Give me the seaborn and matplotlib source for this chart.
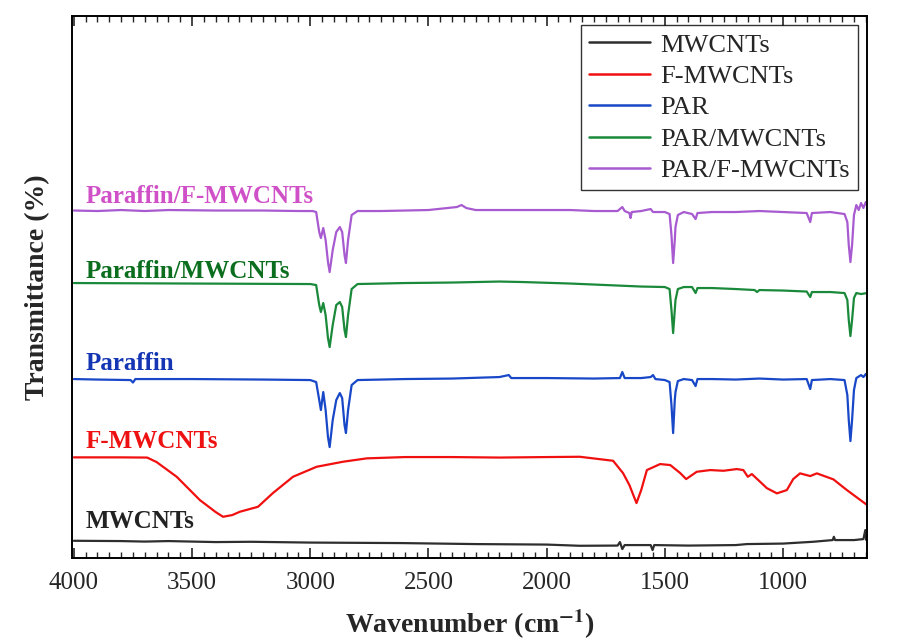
#FTIR spectra of MWCNTs, paraffin and composites

import numpy as np
import pandas as pd
import matplotlib
matplotlib.use("Agg")
import matplotlib.pyplot as plt
import seaborn as sns
from matplotlib.ticker import MultipleLocator

# values (transmittance, arbitrary offset units)
mwcnt_wn = [4000, 3800, 3700, 3600, 3500, 3400, 3250, 3000, 2616, 2300, 2000, 1860, 1700,
            1690, 1680, 1670, 1560, 1552, 1545, 1400, 1200, 1153, 1000, 873, 790, 785,
            780, 700, 660, 652, 648, 645]
mwcnt_t = [17.3, 17, 16.5, 17, 16.5, 16, 16.3, 15.5, 15, 14, 13.5, 12.3, 12.5,
           16, 9, 13, 13, 8, 13, 12.5, 13, 14, 14.5, 16.3, 18, 21.3,
           18, 18, 19, 28, 18, 20]

fmwcnt_wn = [4000, 3800, 3690, 3650, 3565, 3467, 3400, 3369, 3330, 3298, 3221, 3158, 3073,
             2973, 2862, 2761, 2600, 2400, 2200, 2000, 1860, 1719, 1677, 1650, 1620, 1600,
             1576, 1520, 1477, 1435, 1410, 1365, 1308, 1252, 1196, 1168, 1149, 1132, 1097,
             1069, 1026, 984, 957, 928, 885, 857, 787, 730, 644]
fmwcnt_t = [100.7, 100.7, 100.5, 96, 81.3, 58, 46, 41.3, 43, 46.3, 51.3, 65, 81.3,
            91.3, 96.3, 99.7, 101, 101, 100.5, 101, 101.3, 97.3, 85, 73, 55, 68,
            88, 94, 93, 85, 79, 86.3, 88, 87.3, 89, 88, 81.3, 84, 76.3,
            70, 64.7, 68, 79, 84.7, 82, 84.7, 78.7, 68, 53]

par_wn = [4000, 3900, 3760, 3750, 3740, 3500, 3200, 3000, 2975, 2962, 2955, 2945, 2935,
          2925, 2918, 2905, 2890, 2875, 2865, 2855, 2849, 2840, 2825, 2800, 2600, 2400,
          2200, 2160, 2150, 2000, 1800, 1690, 1680, 1670, 1600, 1560, 1550, 1540, 1500,
          1480, 1472, 1465, 1458, 1455, 1445, 1420, 1385, 1370, 1362, 1300, 1200, 1100,
          1000, 900, 885, 878, 800, 740, 728, 722, 715, 708, 700, 690, 670, 660, 650, 645]
par_t = [179, 178.5, 178, 175.5, 179, 179, 178.5, 178, 176, 158, 148, 166, 148,
         121, 111, 138, 158, 165, 160, 133, 125, 148, 173, 178, 179, 179.5,
         181, 183, 180, 180, 179.5, 180, 186, 180, 180, 181, 183, 179, 178,
         176, 153, 125, 158, 166, 177, 179, 178, 172, 179, 179, 178.5, 179.5,
         178.5, 179, 169, 178, 179, 178, 163, 138, 117, 138, 168, 180, 183, 181, 184, 182]

parm_wn = [4000, 3500, 3000, 2975, 2962, 2955, 2945, 2935, 2925, 2918, 2905, 2890, 2875,
           2865, 2855, 2849, 2840, 2825, 2800, 2600, 2400, 2200, 2100, 1900, 1800, 1700,
           1600, 1500, 1480, 1472, 1465, 1458, 1455, 1445, 1420, 1385, 1370, 1362, 1300,
           1200, 1120, 1110, 1100, 1000, 900, 885, 878, 800, 740, 728, 722, 715, 708,
           700, 690, 670, 645]
parm_t = [275, 274.5, 274, 273, 253, 246, 255, 243, 220, 211, 233, 253, 256,
          251, 228, 221, 243, 269, 274, 275, 275.5, 276.5, 276, 274.5, 273.5, 272.5,
          271.5, 271, 269, 248, 225, 248, 258, 269, 271, 271, 265, 270, 270,
          269, 268, 266, 268, 267.5, 266.5, 261, 266, 266, 265, 258, 238, 222, 238,
          260, 265, 264, 265]

parf_wn = [4000, 3900, 3800, 3700, 3600, 3400, 3200, 3050, 2990, 2975, 2962, 2955, 2945,
           2935, 2925, 2918, 2905, 2890, 2875, 2865, 2855, 2849, 2840, 2825, 2800, 2700,
           2500, 2380, 2360, 2340, 2300, 2100, 1900, 1800, 1700, 1680, 1670, 1650, 1645,
           1640, 1600, 1560, 1550, 1500, 1480, 1472, 1465, 1458, 1455, 1445, 1420, 1385,
           1370, 1362, 1300, 1200, 1100, 1000, 900, 885, 878, 800, 740, 728, 722, 715,
           708, 700, 690, 680, 670, 660, 650, 645]
parf_t = [347.5, 347, 348, 347, 348, 347.5, 347.5, 347, 347, 346, 326, 320, 330,
          318, 296, 286, 308, 326, 331, 326, 303, 295, 318, 343, 347, 347,
          348, 351, 353, 350, 348, 348, 348, 347, 347, 351, 347, 345, 340,
          346, 347, 349, 346, 346, 344, 323, 295, 318, 331, 343, 346, 344,
          339, 345, 346, 346, 347, 346, 345, 336, 345, 346, 344, 336, 313, 296,
          313, 343, 353, 348, 355, 350, 356, 353]

legend_names = ["MWCNTs", "F-MWCNTs", "PAR", "PAR/MWCNTs", "PAR/F-MWCNTs"]
label_names = ["MWCNTs", "F-MWCNTs", "Paraffin", "Paraffin/MWCNTs", "Paraffin/F-MWCNTs"]
label_y = [30, 110, 188, 280, 355]
line_colors = ["#2e2e2e", "#f01010", "#1848c8", "#1a8a3a", "#a85ad0"]
text_colors = ["#222222", "#ee1111", "#1436b4", "#0b6e1e", "#d050c8"]

wns = [mwcnt_wn, fmwcnt_wn, par_wn, parm_wn, parf_wn]
ts = [mwcnt_t, fmwcnt_t, par_t, parm_t, parf_t]
frames = []
for name, w, t in zip(legend_names, wns, ts):
    frames.append(pd.DataFrame({"wn": w, "T": t, "sample": name}))
df = pd.concat(frames, ignore_index=True)

sns.set_style("ticks")
plt.rcParams["font.family"] = ["Liberation Serif", "DejaVu Serif"]
plt.rcParams["mathtext.fontset"] = "stix"

fig = plt.figure(figsize=(9.03, 6.4), dpi=100)
ax = fig.add_axes([0.0797, 0.128, 0.8804, 0.847])

sns.lineplot(data=df, x="wn", y="T", hue="sample", hue_order=legend_names,
             palette=line_colors, estimator=None, sort=False, linewidth=1.6, ax=ax)

for name, y, c in zip(label_names, label_y, text_colors):
    ax.text(3950, y, name, color=c, fontsize=18, fontweight="bold", va="baseline")

ax.set_xlim(4008, 645)
ax.set_ylim(0, 542)
ax.set_yticks([])
ax.xaxis.set_major_locator(MultipleLocator(500))
ax.xaxis.set_minor_locator(MultipleLocator(50))
ax.tick_params(axis="x", which="both", direction="in", top=True, labelsize=18, pad=10)
ax.tick_params(axis="x", which="major", length=7, width=1.2)
ax.tick_params(axis="x", which="minor", length=4, width=1)
for s in ax.spines.values():
    s.set_linewidth(1.4)
    s.set_color("black")

ax.set_xlabel(r"Wavenumber (cm$\mathbf{^{-1}}$)", fontsize=20, fontweight="bold", labelpad=10)
ax.set_ylabel("Transmittance (%)", fontsize=20, fontweight="bold", labelpad=16)

leg = ax.legend(loc="upper right", fontsize=19, frameon=True, fancybox=False,
                edgecolor="black", handlelength=2.3, borderaxespad=0.35,
                labelspacing=0.3, handletextpad=0.4, borderpad=0.3)
leg.get_frame().set_linewidth(1.0)
for line in leg.get_lines():
    line.set_linewidth(1.8)

fig.savefig("out.png", dpi=100)
